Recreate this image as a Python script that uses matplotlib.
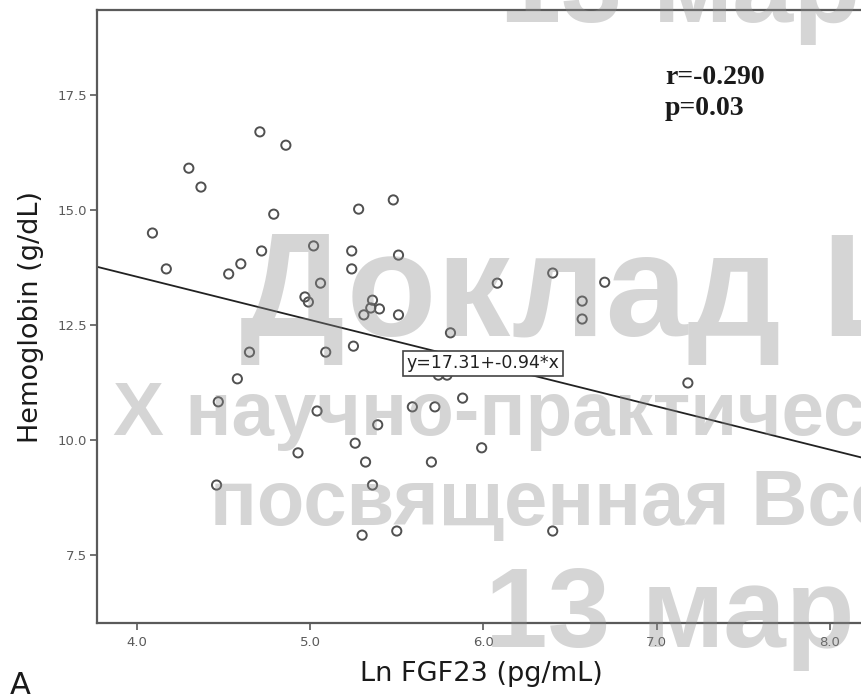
import matplotlib
matplotlib.use('Agg')
import matplotlib.pyplot as plt

# Ln FGF23 vs haemoglobin
ln_fgf23 = [4.09, 4.17, 4.30, 4.37, 4.47, 4.46, 4.53, 4.58, 4.60, 4.65,
            4.71, 4.72, 4.79, 4.86, 4.93, 4.97, 4.99, 5.02, 5.04, 5.06,
            5.09, 5.24, 5.24, 5.25, 5.26, 5.28, 5.30, 5.31, 5.35, 5.36,
            5.40, 5.32, 5.36, 5.39, 5.48, 5.50, 5.51, 5.51, 5.59, 5.70,
            5.72, 5.74, 5.79, 5.81, 5.88, 5.99, 6.08, 6.40, 6.40, 6.57,
            6.57, 6.70, 7.18]
hemoglobin = [14.50, 13.72, 15.91, 15.50, 10.83, 9.02, 13.61, 11.33, 13.83, 11.91,
              16.70, 14.11, 14.91, 16.41, 9.72, 13.11, 13.00, 14.22, 10.63, 13.41,
              11.91, 14.11, 13.72, 12.04, 9.93, 15.02, 7.93, 12.72, 12.87, 13.04,
              12.85, 9.52, 9.02, 10.33, 15.22, 8.02, 14.02, 12.72, 10.72, 9.52,
              10.72, 11.41, 11.41, 12.33, 10.91, 9.83, 13.41, 8.02, 13.63, 13.02,
              12.63, 13.43, 11.24]

intercept = 17.31
slope = -0.94
r_text = 'r=-0.290'
p_text = 'p=0.03'

x_ticks = [4.0, 5.0, 6.0, 7.0, 8.0]
y_ticks = [7.5, 10.0, 12.5, 15.0, 17.5]

W, H = 862, 694
fig = plt.figure(figsize=(W / 100, H / 100), dpi=100)
fig.patch.set_facecolor('white')

def fx(px):
    return px / W

def fy(py):
    return 1 - py / H

ax = fig.add_axes([fx(97), fy(623), fx(862) - fx(97), fy(10) - fy(623)])
ax.set_xlim(3.77, 8.185)
ax.set_ylim(6.02, 19.35)

ax.scatter(ln_fgf23, hemoglobin, s=44, facecolors='none',
           edgecolors='#505050', linewidths=1.4, zorder=3)
ax.axline((0, intercept), slope=slope, color='#222222', lw=1.3, zorder=2)

ax.text(6.0, intercept + slope * 6.0, 'y=17.31+-0.94*x', fontsize=12.5,
        ha='center', va='center', color='#222222', zorder=5,
        bbox=dict(boxstyle='square,pad=0.2', fc='white', ec='#444444', lw=1.2))

ax.text(fx(665), fy(84), r_text, transform=fig.transFigure, fontsize=20,
        fontweight='bold', family='Liberation Serif', color='#1a1a1a', va='baseline')
ax.text(fx(665), fy(115), p_text, transform=fig.transFigure, fontsize=20,
        fontweight='bold', family='Liberation Serif', color='#1a1a1a', va='baseline')

for side in ['left', 'bottom', 'top']:
    ax.spines[side].set_color('#5a5a5a')
    ax.spines[side].set_linewidth(1.6)
ax.spines['right'].set_visible(False)

ax.set_xticks(x_ticks)
ax.set_xticklabels(['%.1f' % v for v in x_ticks])
ax.set_yticks(y_ticks)
ax.set_yticklabels(['%.1f' % v for v in y_ticks])
ax.tick_params(direction='out', length=5, width=1.2, colors='#5a5a5a',
               labelsize=9.5, pad=2)
ax.tick_params(axis='x', pad=4)

ax.set_xlabel('Ln FGF23 (pg/mL)', fontsize=19.5, color='#1a1a1a')
ax.xaxis.set_label_coords((481 - 97) / 765, (623 - 661) / 613)
ax.set_ylabel('Hemoglobin (g/dL)', fontsize=19.5, color='#1a1a1a')
ax.yaxis.set_label_coords((44 - 97) / 765, (623 - 317) / 613)

fig.text(fx(10), fy(694), 'A', fontsize=22, color='#1a1a1a', va='baseline')

# watermark of the source slide
wm = dict(family='Liberation Sans', fontweight='bold', color='#8c8c8c',
          alpha=0.36, zorder=10)
fig.text(fx(500), fy(22), '13 мар', fontsize=79, **wm)
fig.text(fx(240), fy(336), 'Доклад L', fontsize=106, **wm)
fig.text(fx(113), fy(435), 'X научно-практичес', fontsize=55, **wm)
fig.text(fx(210), fy(525), 'посвященная Все', fontsize=56, **wm)
fig.text(fx(485), fy(647), '13 мар', fontsize=81, **wm)

fig.savefig('out.png', dpi=100)
